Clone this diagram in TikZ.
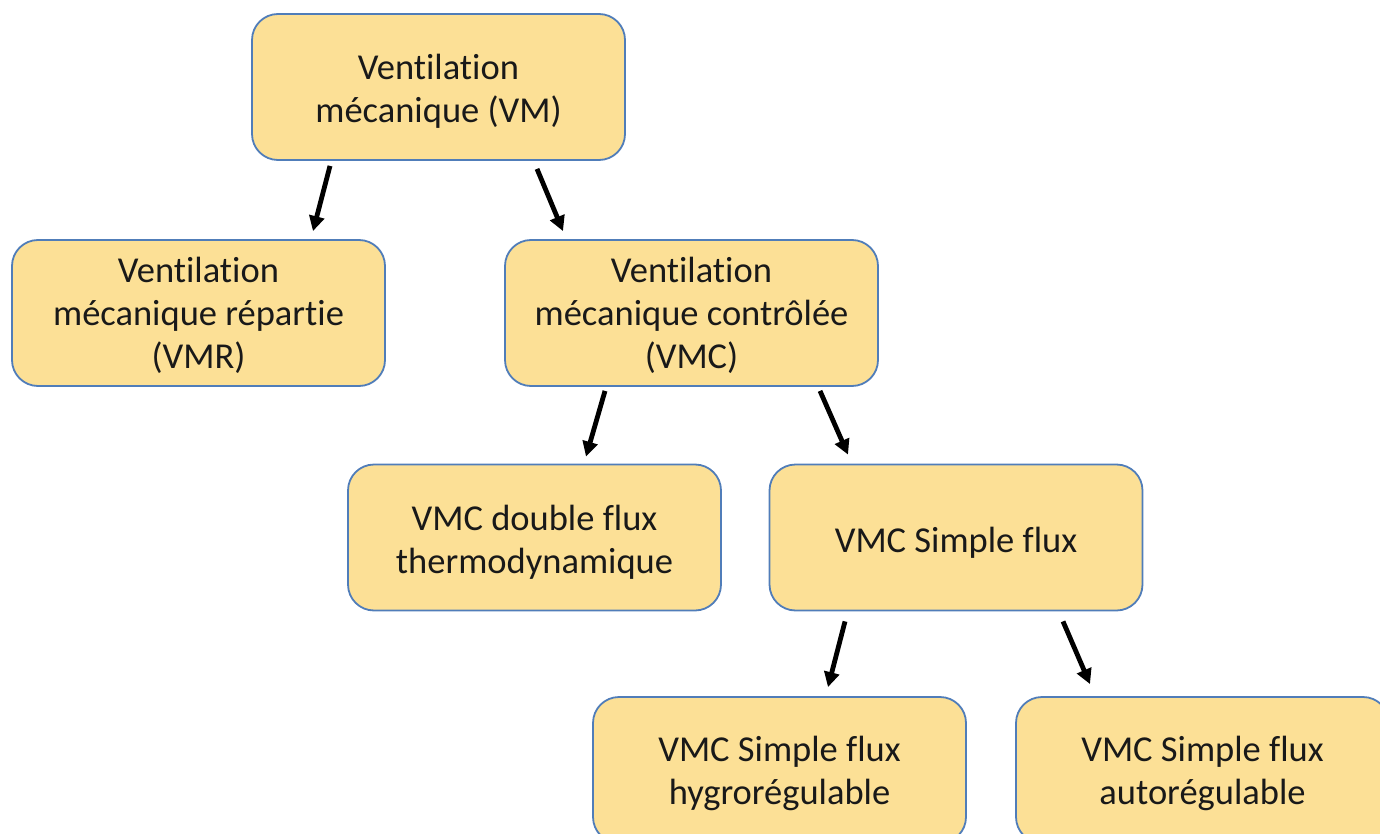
\documentclass[tikz,border=0pt]{standalone}
\usepackage{fontspec}
\setmainfont[Ligatures=NoCommon]{Carlito}
\usetikzlibrary{arrows.meta,calc}
\definecolor{boxfill}{RGB}{252,224,150}
\definecolor{boxline}{RGB}{80,125,185}
\tikzset{
  box/.style={draw=boxline, fill=boxfill, line width=1.8pt, rounded corners=26pt,
    minimum width=373pt, minimum height=146pt, align=center, inner sep=0pt,
    font=\fontsize{36.5}{43}\selectfont, text=black!90},
  lift/.style={execute at begin node={\rule{0pt}{#1}}},
  arr/.style={line width=4.8pt, -{Triangle[length=15pt,width=15pt]}, black}
}
\begin{document}
\begin{tikzpicture}[x=1pt,y=-1pt]
\useasboundingbox (0,0) rectangle (1380,834);
\clip (0,0) rectangle (1380,834);
\node[box,lift=77pt] (vm)  at (438.5,87)   {Ventilation\\mécanique (VM)};
\node[box,lift=116pt] (vmr) at (198.5,313)  {Ventilation\\mécanique répartie\\(VMR)};
\node[box,lift=116pt] (vmc) at (691.5,313)  {Ventilation\\mécanique contrôlée\\(VMC)};
\node[box,lift=78pt] (df)  at (534.5,537.5) {VMC double flux\\thermodynamique};
\node[box,lift=35pt] (sf)  at (956,537.5)  {VMC Simple flux};
\node[box,lift=76pt] (hy)  at (779.5,770)  {VMC Simple flux\\hygrorégulable};
\node[box,lift=76pt] (au)  at (1202.5,770) {VMC Simple flux\\autorégulable};
\coordinate (a1s) at ($(vm.south)+(-108.5,5)$);
\coordinate (a1e) at ($(vmr.north)+(114.5,-8)$);
\coordinate (a2s) at ($(vm.south)+(98.5,8)$);
\coordinate (a2e) at ($(vmc.north)+(-128.5,-8)$);
\coordinate (a3s) at ($(vmc.south)+(-86.5,4)$);
\coordinate (a3e) at ($(df.north)+(51.5,-7)$);
\coordinate (a4s) at ($(vmc.south)+(128.5,4)$);
\coordinate (a4e) at ($(sf.north)+(-108,-9)$);
\coordinate (a5s) at ($(sf.south)+(-111,10)$);
\coordinate (a5e) at ($(hy.north)+(48.5,-9)$);
\coordinate (a6s) at ($(sf.south)+(107,10)$);
\coordinate (a6e) at ($(au.north)+(-112.5,-12)$);
\draw[arr] (a1s) -- (a1e);
\draw[arr] (a2s) -- (a2e);
\draw[arr] (a3s) -- (a3e);
\draw[arr] (a4s) -- (a4e);
\draw[arr] (a5s) -- (a5e);
\draw[arr] (a6s) -- (a6e);
\end{tikzpicture}
\end{document}
